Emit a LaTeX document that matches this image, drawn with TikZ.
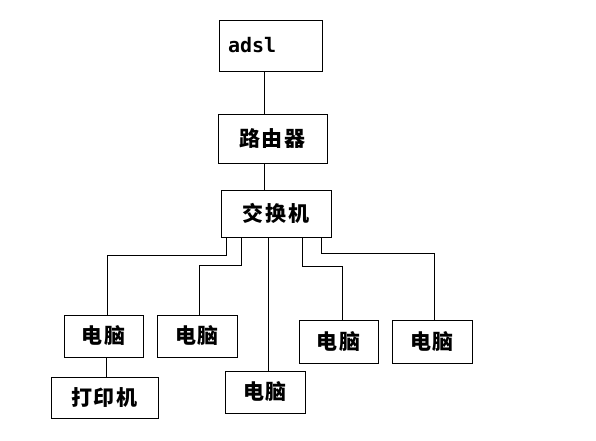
\documentclass[tikz,border=0pt]{standalone}
\usepackage{fontspec}
\usepackage{tikz}
\usetikzlibrary{positioning}
\newfontfamily\cjk{Noto Sans CJK SC}[LetterSpace=8]
\newfontfamily\latinmono{DejaVu Sans Mono}

\begin{document}
\begin{tikzpicture}[
  x=1pt,y=-1pt,
  box/.style={rectangle,draw=black,line width=0.9pt,fill=white,
              inner sep=0pt,font=\cjk\bfseries\fontsize{21}{24}\selectfont},
  ln/.style={line width=0.9pt,color=black}
]
  \useasboundingbox (0,0) rectangle (596,440);

  \node[box,minimum width=103,minimum height=51,text width=85,align=left,
        inner xsep=9,font=\latinmono\bfseries\fontsize{20}{23}\selectfont]
        (adsl) at (270.5,45.5) {adsl};
  \node[box,minimum width=109,minimum height=49] (router) at (272.5,138.5) {路由器};
  \node[box,minimum width=110,minimum height=47] (sw)     at (276,213.5)   {交换机};

  \node[box,minimum width=79,minimum height=42]  (pc1) at (103.5,336) {电脑};
  \node[box,minimum width=80,minimum height=42]  (pc2) at (197,336)   {电脑};
  \node[box,minimum width=80,minimum height=42]  (pc3) at (265,392)   {电脑};
  \node[box,minimum width=79,minimum height=43]  (pc4) at (338.5,341.5) {电脑};
  \node[box,minimum width=80,minimum height=43]  (pc5) at (432,341.5) {电脑};
  \node[box,minimum width=107,minimum height=41] (printer) at (104.5,397.5) {打印机};

  \draw[ln] ([xshift=-6.5pt]adsl.south)  -- ([xshift=-8.5pt]router.north);
  \draw[ln] ([xshift=-8.5pt]router.south) -- ([xshift=-12pt]sw.north);

  \draw[ln] ([xshift=6pt]sw.south west)   -- ++(0,18) -| ([xshift=3.5pt]pc1.north);
  \draw[ln] ([xshift=21pt]sw.south west)  -- ++(0,28) -| ([xshift=2pt]pc2.north);
  \draw[ln] ([xshift=-8pt]sw.south)       -- ([xshift=3pt]pc3.north);
  \draw[ln] ([xshift=-29pt]sw.south east) -- ++(0,29) -| ([xshift=3.5pt]pc4.north);
  \draw[ln] ([xshift=-10pt]sw.south east) -- ++(0,16) -| ([xshift=2pt]pc5.north);

  \draw[ln] ([xshift=2.5pt]pc1.south) -- ([xshift=1.5pt]printer.north);
\end{tikzpicture}
\end{document}
